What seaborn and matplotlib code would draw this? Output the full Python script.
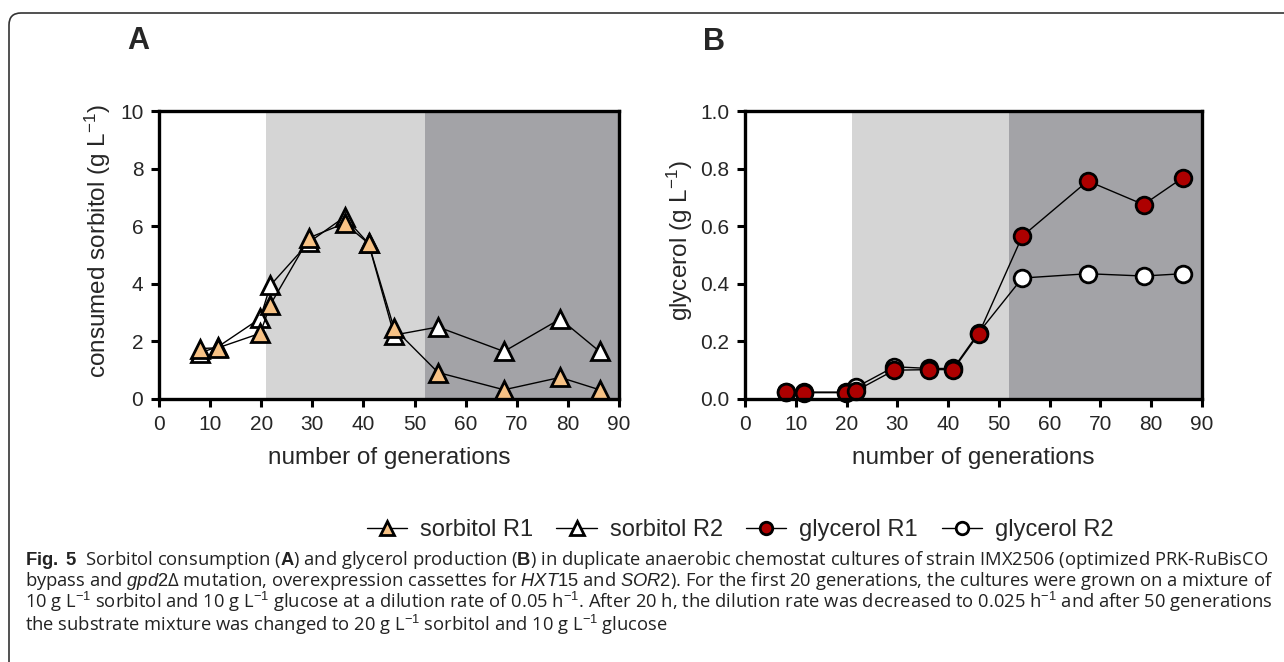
import numpy as np
import pandas as pd
import matplotlib
matplotlib.use("Agg")
import matplotlib.pyplot as plt
from matplotlib.patches import FancyBboxPatch
from matplotlib.transforms import IdentityTransform
import seaborn as sns

# --- Data ---
generations = [8.0, 11.6, 19.8, 21.8, 29.4, 36.3, 41.0, 46.0, 54.6, 67.5, 78.5, 86.2]
sorbitol_r1 = [1.75, 1.78, 2.28, 3.28, 5.6, 6.1, 5.4, 2.45, 0.92, 0.32, 0.75, 0.32]
sorbitol_r2 = [1.6, 1.82, 2.8, 3.95, 5.45, 6.32, 5.4, 2.22, 2.5, 1.65, 2.78, 1.65]
glycerol_r1 = [0.025, 0.022, 0.022, 0.028, 0.1, 0.102, 0.102, 0.225, 0.565, 0.757, 0.675, 0.768]
glycerol_r2 = [0.026, 0.024, 0.024, 0.04, 0.112, 0.106, 0.106, 0.23, 0.42, 0.435, 0.427, 0.435]
phase_edges = [21.0, 52.0, 90.0]

x_ticks = list(range(0, 91, 10))
a_ticks = [0, 2, 4, 6, 8, 10]
b_ticks = [0.0, 0.2, 0.4, 0.6, 0.8, 1.0]

caption_lines = [
    r"$\mathbf{Fig.\ 5}$  Sorbitol consumption ($\mathbf{A}$) and glycerol production ($\mathbf{B}$) in duplicate anaerobic chemostat cultures of strain IMX2506 (optimized PRK-RuBisCO",
    r"bypass and $\mathit{gpd2}$Δ mutation, overexpression cassettes for $\mathit{HXT15}$ and $\mathit{SOR2}$). For the first 20 generations, the cultures were grown on a mixture of",
    r"10 g L$^{-1}$ sorbitol and 10 g L$^{-1}$ glucose at a dilution rate of 0.05 h$^{-1}$. After 20 h, the dilution rate was decreased to 0.025 h$^{-1}$ and after 50 generations",
    r"the substrate mixture was changed to 20 g L$^{-1}$ sorbitol and 10 g L$^{-1}$ glucose",
]

# --- Style ---
sns.set_theme(style="ticks")
plt.rcParams["font.family"] = ["Liberation Sans", "DejaVu Sans"]
plt.rcParams["mathtext.fontset"] = "custom"
plt.rcParams["mathtext.rm"] = "Liberation Sans"
plt.rcParams["mathtext.it"] = "Liberation Sans:italic"
plt.rcParams["mathtext.bf"] = "Liberation Sans:bold"

light_gray = "#d5d5d5"
dark_gray = "#a3a3a7"
orange = "#f7c285"
dark_red = "#ad0000"

W, H = 1284, 662
fig = plt.figure(figsize=(W / 100, H / 100), dpi=100)

def px_axes(left, top, right, bottom):
    return fig.add_axes([left / W, 1 - bottom / H, (right - left) / W, (bottom - top) / H])

ax_a = px_axes(159, 111, 619, 399)
ax_b = px_axes(745, 111, 1202, 399)

line_kw = dict(color="black", lw=1.0, mec="black", mew=2.0, clip_on=False)

sns.lineplot(x=generations, y=sorbitol_r1, ax=ax_a, marker="^", ms=13, mfc=orange,
             label="sorbitol R1", zorder=4, **line_kw)
sns.lineplot(x=generations, y=sorbitol_r2, ax=ax_a, marker="^", ms=13, mfc="white",
             label="sorbitol R2", zorder=3, **line_kw)
sns.lineplot(x=generations, y=glycerol_r1, ax=ax_b, marker="o", ms=12, mfc=dark_red,
             label="glycerol R1", zorder=4, **line_kw)
sns.lineplot(x=generations, y=glycerol_r2, ax=ax_b, marker="o", ms=12, mfc="white",
             label="glycerol R2", zorder=3, **line_kw)

panels = [
    (ax_a, a_ticks, 10, "consumed sorbitol (g L$^{-1}$)", "{:g}", -0.10),
    (ax_b, b_ticks, 1.0, "glycerol (g L$^{-1}$)", "{:.1f}", -0.11),
]
for ax, yt, ymax, ylab, fmt, ylab_x in panels:
    ax.axvspan(phase_edges[0], phase_edges[1], color=light_gray, lw=0, zorder=0)
    ax.axvspan(phase_edges[1], phase_edges[2], color=dark_gray, lw=0, zorder=0)
    ax.set_xlim(0, 90)
    ax.set_ylim(0, ymax)
    ax.set_xticks(x_ticks)
    ax.set_yticks(yt)
    ax.set_yticklabels([fmt.format(v) for v in yt])
    ax.set_xlabel("number of generations", fontsize=17.5, labelpad=9.5)
    ax.set_ylabel(ylab, fontsize=17.5)
    ax.yaxis.set_label_coords(ylab_x, 0.55)
    ax.tick_params(axis="both", direction="out", length=5.8, width=2.2, labelsize=15,
                   color="black", pad=5.5)
    for s in ax.spines.values():
        s.set_linewidth(2.4)
        s.set_color("black")
        s.set_zorder(5)
    ax.set_facecolor("white")
    ax.get_legend().remove()

# panel letters
fig.text(138 / W, 1 - 41 / H, "A", fontsize=22, fontweight="bold", ha="center", va="center")
fig.text(714 / W, 1 - 42 / H, "B", fontsize=22, fontweight="bold", ha="center", va="center")

# shared legend
handles, labels = [], []
for ax in (ax_a, ax_b):
    h, l = ax.get_legend_handles_labels()
    handles += h
    labels += l
fig.legend(handles, labels, ncol=4, frameon=False, loc="center",
           bbox_to_anchor=(740 / W, 1 - 530 / H), fontsize=17, markerscale=0.75,
           handlelength=1.7, handletextpad=0.55, columnspacing=1.0)

# rounded frame around the figure panel
frame = FancyBboxPatch((9, -30), W + 40, H - 13 + 30,
                       boxstyle="round,pad=0,rounding_size=12",
                       transform=IdentityTransform(), fill=False,
                       ec="#333333", lw=1.2, figure=fig)
fig.patches.append(frame)

# caption, scaled so the first line spans the same width as in the figure
cap_font = ["Open Sans", "DejaVu Sans"]
cap_size = 11
cap_texts = []
cap_y = [560, 581, 602, 625]
for txt, y in zip(caption_lines, cap_y):
    t = fig.text(25 / W, 1 - y / H, txt, fontsize=cap_size, family=cap_font,
                 ha="left", va="center", color="#222222")
    cap_texts.append(t)
renderer = fig.canvas.get_renderer()
width = cap_texts[0].get_window_extent(renderer).width
new_size = cap_size * (1240 / width)
for t in cap_texts:
    t.set_fontsize(new_size)

fig.savefig("out.png", dpi=100)
